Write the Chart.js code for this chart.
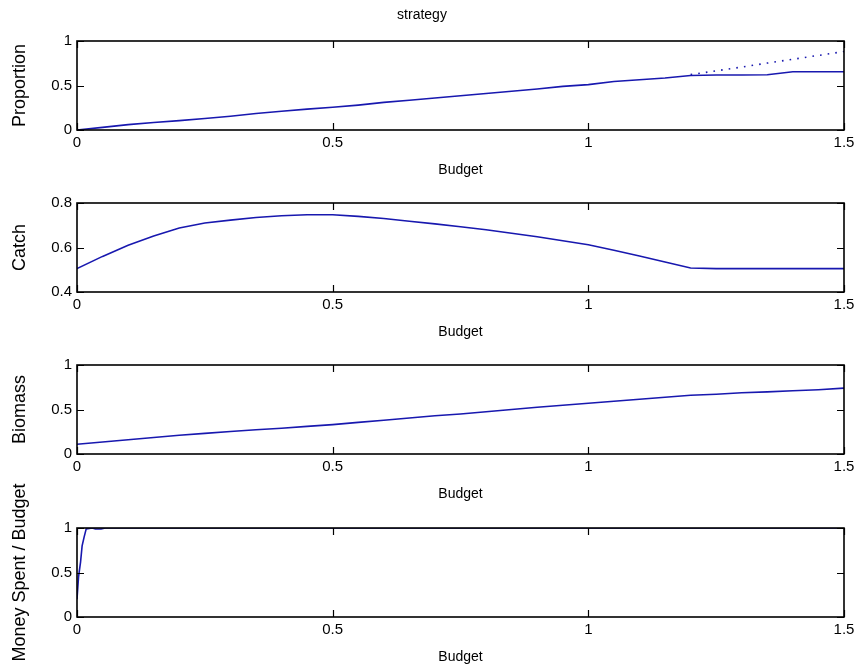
<!DOCTYPE html>
<html>
<head>
<meta charset="utf-8">
<title>strategy</title>
<script src="https://cdn.jsdelivr.net/npm/chart.js@4.4.1/dist/chart.umd.min.js"></script>
<style>
  html, body { margin: 0; padding: 0; background: #fff; }
  #page { position: relative; width: 859px; height: 668px; overflow: hidden; }
  #page canvas { position: absolute; left: 0; }
</style>
</head>
<body>
<div id="page">
  <canvas id="panel1" width="859" height="184" style="top:1px"></canvas>
  <canvas id="panel2" width="859" height="184" style="top:163px"></canvas>
  <canvas id="panel3" width="859" height="184" style="top:325px"></canvas>
  <canvas id="panel4" width="859" height="200" style="top:468px"></canvas>
</div>
<script>
// budget grid shared by the first three panels
const budget = [0, 0.05, 0.1, 0.15, 0.2, 0.25, 0.3, 0.35, 0.4, 0.45, 0.5,
  0.55, 0.6, 0.65, 0.7, 0.75, 0.8, 0.85, 0.9, 0.95, 1.0,
  1.05, 1.1, 1.15, 1.2, 1.25, 1.3, 1.35, 1.4, 1.45, 1.5];

const proportion = [0, 0.03, 0.06, 0.085, 0.105, 0.13, 0.155, 0.185, 0.21, 0.235, 0.255,
  0.28, 0.31, 0.335, 0.36, 0.385, 0.41, 0.435, 0.46, 0.49, 0.51,
  0.545, 0.565, 0.585, 0.612, 0.618, 0.618, 0.62, 0.655, 0.655, 0.655];

// unconstrained proportion, only shown where it leaves the solid curve
const proportionFree = [null, null, null, null, null, null, null, null, null, null, null,
  null, null, null, null, null, null, null, null, null, null,
  null, null, null, 0.622, 0.665, 0.707, 0.752, 0.795, 0.838, 0.882];

const catchValues = [0.505, 0.56, 0.61, 0.652, 0.688, 0.71, 0.723, 0.735, 0.743, 0.747, 0.747,
  0.74, 0.73, 0.718, 0.706, 0.693, 0.68, 0.664, 0.648, 0.63, 0.612,
  0.588, 0.562, 0.535, 0.508, 0.505, 0.505, 0.505, 0.505, 0.505, 0.505];

const biomass = [0.11, 0.135, 0.16, 0.185, 0.21, 0.232, 0.252, 0.272, 0.29, 0.31, 0.33,
  0.355, 0.38, 0.405, 0.43, 0.45, 0.475, 0.5, 0.525, 0.547, 0.57,
  0.592, 0.615, 0.638, 0.66, 0.672, 0.688, 0.698, 0.71, 0.722, 0.74];

// money spent relative to budget (own, finer grid near zero)
const spentBudget = [0, 0.003, 0.007, 0.01, 0.014, 0.018, 0.03, 0.036, 0.047, 0.055, 0.5, 1.0, 1.5];
const spentRatio  = [0.2, 0.45, 0.62, 0.8, 0.9, 0.99, 1.0, 0.988, 0.988, 1.0, 1.0, 1.0, 1.0];

const xTicks = [0, 0.5, 1, 1.5];
const xTickLabels = ['0', '0.5', '1', '1.5'];
const unitTicks = [0, 0.5, 1];
const unitTickLabels = ['0', '0.5', '1'];
const catchTicks = [0.4, 0.6, 0.8];
const catchTickLabels = ['0.4', '0.6', '0.8'];

const FONT = "'Liberation Sans', Arial, Helvetica, sans-serif";
const LINE = 'rgb(24, 24, 175)';
const TICK = 7;

function pts(xs, ys) {
  return xs.map((x, i) => ({ x: x, y: ys[i] }));
}

// MATLAB-like box with inward tick marks on all four sides
const axesBox = {
  id: 'axesBox',
  afterDatasetsDraw(chart) {
    const { ctx, chartArea: a, scales: { x, y } } = chart;
    ctx.save();
    ctx.strokeStyle = '#000';
    ctx.lineWidth = 1.6;
    ctx.strokeRect(a.left, a.top, a.right - a.left, a.bottom - a.top);
    ctx.lineWidth = 1.2;
    ctx.beginPath();
    x.ticks.forEach(t => {
      const px = Math.round(x.getPixelForValue(t.value)) + 0.5;
      ctx.moveTo(px, a.bottom); ctx.lineTo(px, a.bottom - TICK);
      ctx.moveTo(px, a.top); ctx.lineTo(px, a.top + TICK);
    });
    y.ticks.forEach(t => {
      const py = Math.round(y.getPixelForValue(t.value)) + 0.5;
      ctx.moveTo(a.left, py); ctx.lineTo(a.left + TICK, py);
      ctx.moveTo(a.right, py); ctx.lineTo(a.right - TICK, py);
    });
    ctx.stroke();
    ctx.restore();
  }
};

function makePanel(id, datasets, yLabel, yMin, yMax, yTicks, yTickLabels, opts) {
  opts = opts || {};
  const topPad = opts.title ? 0 : (opts.topPad || 40);
  return new Chart(document.getElementById(id), {
    type: 'line',
    data: { datasets: datasets },
    plugins: [axesBox],
    options: {
      responsive: false,
      animation: false,
      layout: { padding: { top: topPad, right: 15, left: 0, bottom: 0 } },
      plugins: {
        legend: { display: false },
        tooltip: { enabled: false },
        title: {
          display: !!opts.title,
          text: opts.title || '',
          color: '#000',
          font: { family: FONT, size: 14, weight: 'normal', lineHeight: 1.2 },
          padding: { top: 6, bottom: 17.2 }
        }
      },
      elements: { point: { radius: 0 } },
      scales: {
        x: {
          type: 'linear',
          min: 0,
          max: 1.5,
          afterBuildTicks: s => { s.ticks = xTicks.map(v => ({ value: v })); },
          afterFit: s => { s.height = opts.xHeight || 55; },
          grid: { display: false, drawTicks: false },
          border: { display: false },
          ticks: {
            color: '#000', padding: 4, maxRotation: 0,
            font: { family: FONT, size: 15 },
            callback: (v, i) => xTickLabels[i]
          },
          title: {
            display: true,
            text: 'Budget',
            color: '#000',
            font: { family: FONT, size: 14, lineHeight: 1.2 },
            padding: { top: 0, bottom: opts.xTitlePad || 6.6 }
          }
        },
        y: {
          min: yMin,
          max: yMax,
          afterBuildTicks: s => { s.ticks = yTicks.map(v => ({ value: v })); },
          afterFit: s => { s.width = 77; },
          grid: { display: false, drawTicks: false },
          border: { display: false },
          ticks: {
            color: '#000', padding: 5,
            font: { family: FONT, size: 15 },
            callback: (v, i) => yTickLabels[i]
          },
          title: {
            display: true,
            text: yLabel,
            color: '#000',
            font: { family: FONT, size: 18, lineHeight: 1.2 },
            padding: { top: 9, bottom: 0 }
          }
        }
      }
    }
  });
}

makePanel('panel1', [
  { data: pts(budget, proportionFree), borderColor: LINE, borderWidth: 1.6,
    borderDash: [1.6, 6.1], spanGaps: false },
  { data: pts(budget, proportion), borderColor: LINE, borderWidth: 1.6 }
], 'Proportion', 0, 1, unitTicks, unitTickLabels, { title: 'strategy' });

makePanel('panel2', [
  { data: pts(budget, catchValues), borderColor: LINE, borderWidth: 1.6 }
], 'Catch', 0.4, 0.8, catchTicks, catchTickLabels);

makePanel('panel3', [
  { data: pts(budget, biomass), borderColor: LINE, borderWidth: 1.6 }
], 'Biomass', 0, 1, unitTicks, unitTickLabels);

// last panel sits in a taller canvas so its long axis title fits
makePanel('panel4', [
  { data: pts(spentBudget, spentRatio), borderColor: LINE, borderWidth: 1.6 }
], 'Money Spent / Budget', 0, 1, unitTicks, unitTickLabels,
  { topPad: 60, xHeight: 51, xTitlePad: 2.6 });
</script>
</body>
</html>
